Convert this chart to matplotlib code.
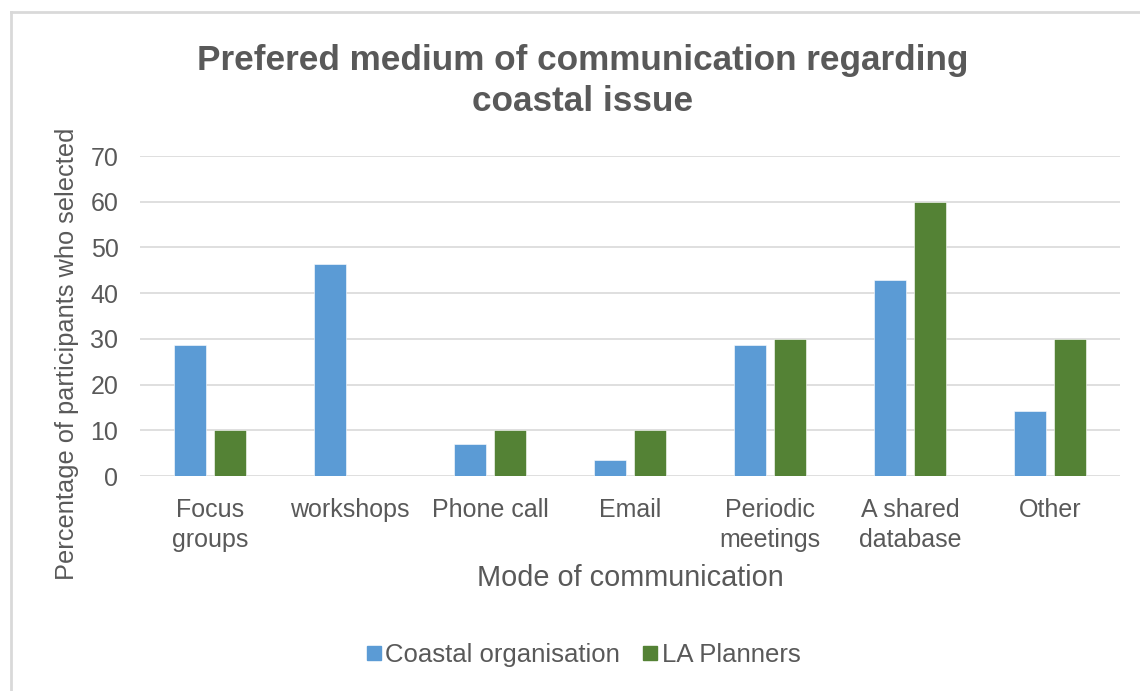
"""Preferred medium of communication regarding coastal issue: grouped bars,
coastal organisations vs LA planners."""
import matplotlib
matplotlib.use("Agg")
import matplotlib.pyplot as plt
from matplotlib.lines import Line2D
import numpy as np

CATEGORIES = ["Focus\ngroups", "workshops", "Phone call", "Email",
              "Periodic\nmeetings", "A shared\ndatabase", "Other"]
COASTAL = [28.6, 46.4, 7.1, 3.6, 28.6, 42.9, 14.3]
LA_PLANNERS = [10, 0, 10, 10, 30, 60, 30]
SERIES = ["Coastal organisation", "LA Planners"]
COLORS = ["#5B9BD5", "#548235"]
TEXT = "#595959"

plt.rcParams["font.family"] = ["Liberation Sans", "DejaVu Sans"]

fig = plt.figure(figsize=(11.4, 6.91), dpi=100)
ax = fig.add_axes([140 / 1140, 1 - 476 / 691, 980 / 1140, 320 / 691])

x = np.arange(len(CATEGORIES))
w = 0.229
for i, (vals, name, c) in enumerate(zip([COASTAL, LA_PLANNERS], SERIES, COLORS)):
    ax.bar(x + (i - 0.5) * 0.286, vals, w, color=c, label=name,
           edgecolor="white", linewidth=0.4, zorder=3)

ax.set_xlim(-0.5, len(CATEGORIES) - 0.5)
ax.set_ylim(0, 70)
ax.set_yticks(range(0, 71, 10))
ax.set_xticks(x)
ax.set_xticklabels(CATEGORIES, linespacing=1.3)
ax.tick_params(length=0, labelsize=18, labelcolor=TEXT)
ax.tick_params(axis="x", pad=16)
ax.tick_params(axis="y", pad=15.5)
ax.grid(axis="y", color="#D9D9D9", lw=1.2, zorder=0)
for s in ax.spines.values():
    s.set_visible(False)

ax.set_ylabel("Percentage of participants who selected", fontsize=18.3,
              color=TEXT, va="center")
ax.yaxis.set_label_coords(-0.0745, 0.381)
ax.set_xlabel("Mode of communication", fontsize=20.8, color=TEXT)
ax.xaxis.set_label_coords(0.5, -0.319)
ax.xaxis.label.set_va("center")

fig.text(583 / 1140, 1 - 81 / 691,
         "Prefered medium of communication regarding\ncoastal issue",
         ha="center", va="center", fontsize=25.3, fontweight="bold",
         color=TEXT, linespacing=1.28)

handles = [Line2D([], [], marker="s", ls="", color=c, markersize=10) for c in COLORS]
fig.legend(handles, SERIES, loc="center", bbox_to_anchor=(582 / 1140, 1 - 655 / 691),
           ncol=2, frameon=False, fontsize=18.5, labelcolor=TEXT,
           handletextpad=0.05, columnspacing=0.78, handlelength=0.8)

# chart-area border (cropped on the right/bottom)
fig.add_artist(Line2D([11 / 1140, 11 / 1140], [0, 1 - 12 / 691],
                      transform=fig.transFigure, color="#D9D9D9", lw=2))
fig.add_artist(Line2D([11 / 1140, 1], [1 - 12 / 691, 1 - 12 / 691],
                      transform=fig.transFigure, color="#D9D9D9", lw=2))

fig.savefig("out.png", dpi=100)
